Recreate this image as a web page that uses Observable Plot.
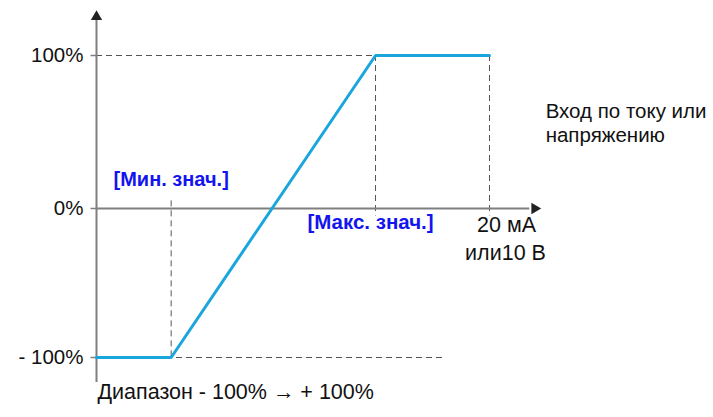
<!DOCTYPE html>
<html><head><meta charset="utf-8">
<script src="https://cdn.jsdelivr.net/npm/d3@7"></script>
<script src="https://cdn.jsdelivr.net/npm/@observablehq/plot@0.6"></script>
<style>body{margin:0;background:#fff}</style>
</head><body><div id="chart"></div>
<script>
// input (mA scale, 0..20) and output (%)
const inputPoints = [0, 3.8, 14.2, 20];
const outputPoints = [-100, -100, 100, 100];
const yTickValues = [100, 0, -100];
const yTickLabels = ["100%", "0%", "- 100%"];
const minLabel = "[Мин. знач.]";
const maxLabel = "[Макс. знач.]";
const xEndLabel = ["20 мА", "или10 В"];
const sideLabel = ["Вход по току или", "напряжению"];
const rangeLabel = "Диапазон - 100% → + 100%";

const data = inputPoints.map((x, i) => ({x, y: outputPoints[i]}));
const xMin = inputPoints[1], xMax = inputPoints[2], xEnd = inputPoints[3];
const xAxisEnd = 22.45, yTop = 128, yBottom = -116.8, lowDashEnd = 17.8;

const gray = "#7f7f7f", dash = "#555";
const plot = Plot.plot({
  width: 713, height: 417,
  margin: 0,
  x: {type: "linear", domain: [0, 20], range: [96, 489], axis: null},
  y: {type: "linear", domain: [-100, 0, 100], range: [357, 208, 55], axis: null},
  style: {fontFamily: "'Liberation Sans', Arial, sans-serif", fontSize: "16px", background: "#fff"},
  marks: [
    // dashed guides
    Plot.ruleY([100], {x1: 0, x2: xMax, stroke: dash, strokeDasharray: "6,4", strokeWidth: 1}),
    Plot.ruleY([-100], {x1: 0, x2: lowDashEnd, stroke: dash, strokeDasharray: "6,4", strokeWidth: 1}),
    Plot.ruleX([xMin], {y1: 5, y2: -100, stroke: dash, strokeDasharray: "6,4", strokeWidth: 1}),
    Plot.ruleX([xMax, xEnd], {y1: 100, y2: -5, stroke: dash, strokeDasharray: "6,4", strokeWidth: 1}),
    // axes
    Plot.ruleY([0], {x1: 0, x2: xAxisEnd - 0.4, stroke: gray, strokeWidth: 2}),
    Plot.ruleX([0], {y1: yBottom, y2: yTop - 4, stroke: gray, strokeWidth: 2}),
    Plot.dot([{x: xAxisEnd, y: 0}], {x: "x", y: "y", symbol: "triangle", r: 4.2, fill: "#222", stroke: null, rotate: 90, dx: -3}),
    Plot.dot([{x: 0, y: yTop}], {x: "x", y: "y", symbol: "triangle", r: 4.2, fill: "#222", stroke: null, dy: 4}),
    // y ticks
    Plot.ruleY(yTickValues, {x1: -0.28, x2: 0, stroke: gray, strokeWidth: 1.5}),
    Plot.text(yTickValues, {x: 0, y: d => d, text: (d, i) => yTickLabels[i], textAnchor: "end", dx: -13, fill: "#111", fontSize: 20.5}),
    // data line
    Plot.line(data, {x: "x", y: "y", stroke: "#1aa6dc", strokeWidth: 3}),
    // labels
    Plot.text([minLabel], {x: xMin, y: 0, text: d => d, dy: -29, fill: "#1414ee", fontWeight: "bold", fontSize: 20}),
    Plot.text([maxLabel], {x: xMax, y: 0, text: d => d, dy: 14, dx: -5, fill: "#1414ee", fontWeight: "bold", fontSize: 20.5}),
    Plot.text([xEndLabel[0]], {x: xEnd, y: 0, text: d => d, dy: 17, dx: 17, fill: "#111", fontSize: 21.5}),
    Plot.text([xEndLabel[1]], {x: xEnd, y: 0, text: d => d, dy: 45, dx: 16, fill: "#111", fontSize: 21.5}),
    Plot.text([sideLabel[0]], {x: xAxisEnd, y: 60, text: d => d, dx: 8, dy: -5, textAnchor: "start", fill: "#111", fontSize: 20.5}),
    Plot.text([sideLabel[1]], {x: xAxisEnd, y: 60, text: d => d, dx: 8, dy: 19, textAnchor: "start", fill: "#111", fontSize: 20.5}),
    Plot.text([rangeLabel], {x: 0, y: -100, text: d => d, dy: 35, dx: 1, textAnchor: "start", fill: "#111", fontSize: 21.5})
  ]
});
document.getElementById("chart").appendChild(plot);
</script>
</body></html>
